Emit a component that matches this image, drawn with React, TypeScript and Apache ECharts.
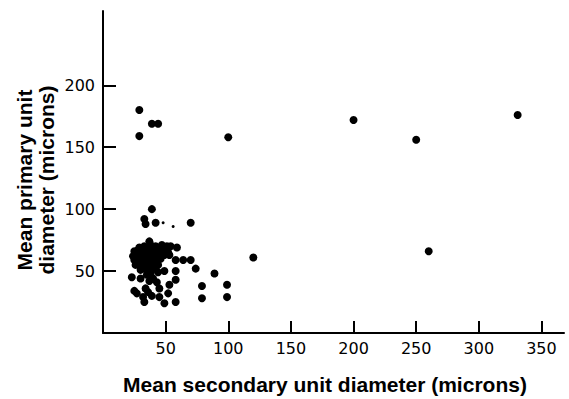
import React, { useEffect, useRef } from "react";
import * as echarts from "echarts";

// Mean secondary unit diameter (x) vs mean primary unit diameter (y), microns
const clusterX = [
  37, 29, 33, 38, 42, 47, 51, 54, 59,
  25, 28, 31, 34, 36, 40, 44, 48, 52,
  24, 27, 30, 33, 36, 39, 42, 45, 49, 53,
  25, 28, 31, 34, 37, 40, 43, 46, 58, 64, 70,
  26, 29, 32, 35, 38, 41, 44,
  30, 33, 36, 39, 42,
  35, 38, 44, 49, 58,
];
const clusterY = [
  74, 69, 70, 71, 70, 71, 70, 70, 69,
  66, 67, 67, 68, 66, 67, 67, 66, 65,
  62, 63, 62, 63, 62, 63, 64, 62, 63, 63,
  59, 58, 59, 58, 59, 60, 58, 60, 59, 59, 59,
  55, 55, 54, 55, 56, 54, 55,
  51, 52, 50, 51, 52,
  47, 48, 49, 50, 50,
];
const lowerX = [74, 89, 23, 30, 37, 43, 40, 58, 53, 79, 99, 34, 45, 52, 27, 25, 32, 33, 39, 45, 49, 58, 79, 99, 36];
const lowerY = [52, 48, 45, 44, 42, 41, 44, 43, 39, 38, 39, 36, 36, 32, 32, 34, 29, 25, 30, 29, 24, 25, 28, 29, 33];
const upperX = [39, 33, 34, 42, 70];
const upperY = [100, 92, 88, 89, 89];
const outlierX = [29, 29, 39, 44, 100, 200, 250, 331, 260, 120];
const outlierY = [180, 159, 169, 169, 158, 172, 156, 176, 66, 61];
const specksX = [48, 56];
const specksY = [89, 86];

const xTicks = [50, 100, 150, 200, 250, 300, 350];
const yTicks = [50, 100, 150, 200];

const xTitle = "Mean secondary unit diameter (microns)";
const yTitle = "Mean primary unit\ndiameter (microns)";

const zip = (xs: number[], ys: number[]) => xs.map((x, i) => [x, ys[i]]);

export default function App() {
  const ref = useRef<HTMLDivElement>(null);
  useEffect(() => {
    if (!ref.current) return;
    const chart = echarts.init(ref.current, null, { renderer: "svg" });
    const mainData = [
      ...zip(clusterX, clusterY),
      ...zip(lowerX, lowerY),
      ...zip(upperX, upperY),
      ...zip(outlierX, outlierY),
    ];
    const axisLine = { show: true, lineStyle: { color: "#000", width: 2 } };
    chart.setOption({
      animation: false,
      backgroundColor: "#fff",
      grid: { left: 103, top: 11, width: 461, height: 322 },
      xAxis: {
        type: "value",
        min: 0,
        max: 368,
        axisLine,
        splitLine: { show: false },
        axisTick: {
          show: true,
          inside: true,
          length: 12,
          customValues: xTicks,
          lineStyle: { color: "#000", width: 2 },
        },
        axisLabel: {
          customValues: xTicks,
          color: "#000",
          fontFamily: "DejaVu Sans",
          fontSize: 16,
          margin: 7,
        },
      },
      yAxis: {
        type: "value",
        min: 0,
        max: 260,
        axisLine,
        splitLine: { show: false },
        axisTick: {
          show: true,
          inside: true,
          length: 13,
          customValues: yTicks,
          lineStyle: { color: "#000", width: 2 },
        },
        axisLabel: {
          customValues: yTicks,
          color: "#000",
          fontFamily: "DejaVu Sans",
          fontSize: 16,
          margin: 8,
        },
      },
      series: [
        {
          type: "scatter",
          data: mainData,
          symbolSize: 8,
          itemStyle: { color: "#000", opacity: 1 },
        },
        {
          type: "scatter",
          data: zip(specksX, specksY),
          symbolSize: 3,
          itemStyle: { color: "#000", opacity: 1 },
        },
      ],
      graphic: [
        {
          type: "text",
          x: 325,
          y: 384,
          style: {
            text: xTitle,
            font: "bold 21px 'Liberation Sans'",
            fill: "#000",
            align: "center",
            verticalAlign: "middle",
          },
        },
        {
          type: "text",
          x: 35,
          y: 180,
          rotation: Math.PI / 2,
          style: {
            text: yTitle,
            font: "bold 21px 'Liberation Sans'",
            fill: "#000",
            align: "center",
            verticalAlign: "middle",
            lineHeight: 22,
          },
        },
      ],
    });
    return () => chart.dispose();
  }, []);
  return (
    <div
      ref={ref}
      style={{ position: "fixed", left: 0, top: 0, width: 569, height: 399, background: "#fff" }}
    />
  );
}
